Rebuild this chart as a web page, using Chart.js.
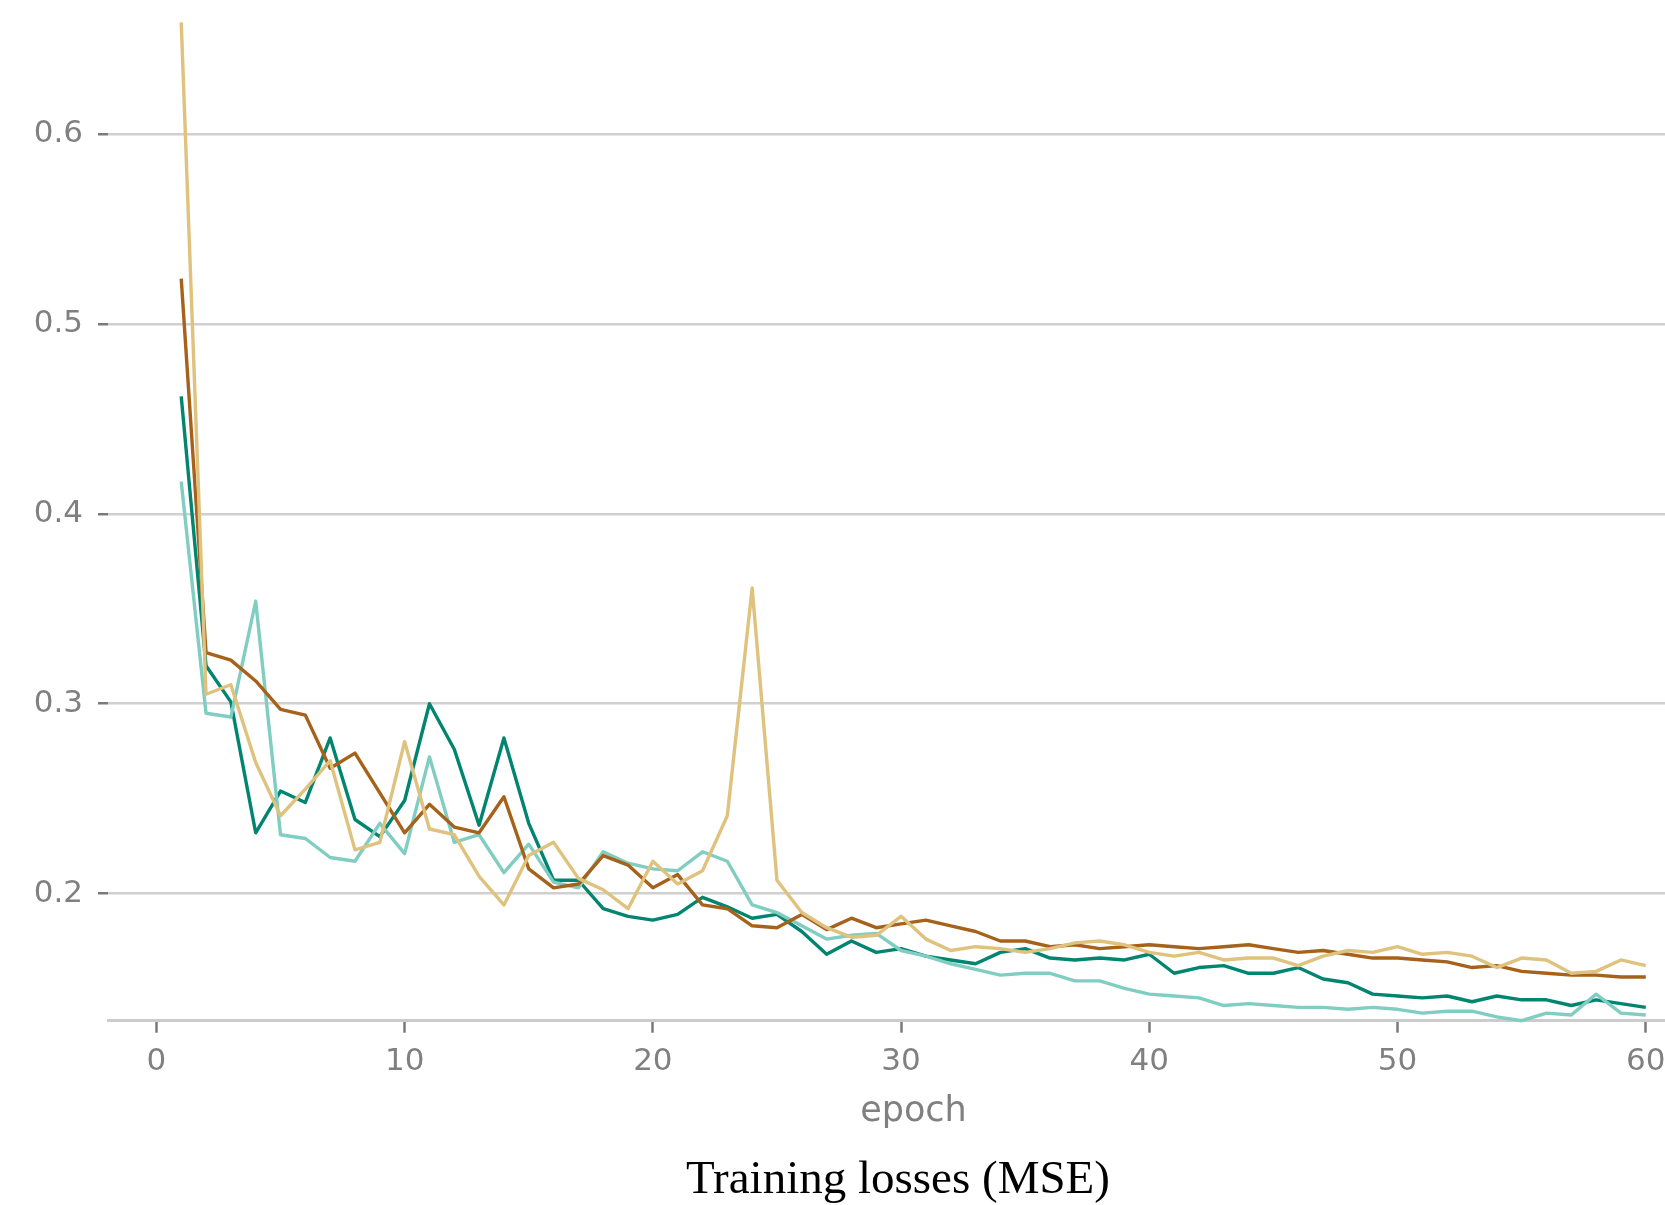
<!DOCTYPE html>
<html>
<head>
<meta charset="utf-8">
<title>Training losses (MSE)</title>
<script src="https://cdn.jsdelivr.net/npm/chart.js@4.4.1/dist/chart.umd.min.js"></script>
<style>
  html, body { margin: 0; padding: 0; background: #ffffff; overflow: hidden; }
  canvas { display: block; }
</style>
</head>
<body>
<canvas id="chart" width="1796" height="1205"></canvas>
<script>
// Epochs on the x axis
const epochs = [1, 2, 3, 4, 5, 6, 7, 8, 9, 10,
  11, 12, 13, 14, 15, 16, 17, 18, 19, 20,
  21, 22, 23, 24, 25, 26, 27, 28, 29, 30,
  31, 32, 33, 34, 35, 36, 37, 38, 39, 40,
  41, 42, 43, 44, 45, 46, 47, 48, 49, 50,
  51, 52, 53, 54, 55, 56, 57, 58, 59, 60];

// Tick values shown on each axis
const xTicks = [0, 10, 20, 30, 40, 50, 60];
const yTicks = [0.2, 0.3, 0.4, 0.5, 0.6];

// Per-epoch training loss (MSE) for each run
const lossRunA = [0.462, 0.320, 0.301, 0.232, 0.254, 0.248, 0.282, 0.239, 0.230, 0.249,
  0.300, 0.276, 0.236, 0.282, 0.237, 0.207, 0.207, 0.192, 0.188, 0.186,
  0.189, 0.198, 0.193, 0.187, 0.189, 0.180, 0.168, 0.175, 0.169, 0.171,
  0.167, 0.165, 0.163, 0.169, 0.171, 0.166, 0.165, 0.166, 0.165, 0.168,
  0.158, 0.161, 0.162, 0.158, 0.158, 0.161, 0.155, 0.153, 0.147, 0.146,
  0.145, 0.146, 0.143, 0.146, 0.144, 0.144, 0.141, 0.144, 0.142, 0.140];

const lossRunB = [0.417, 0.295, 0.293, 0.354, 0.231, 0.229, 0.219, 0.217, 0.237, 0.221,
  0.272, 0.227, 0.231, 0.211, 0.226, 0.206, 0.203, 0.222, 0.216, 0.213,
  0.212, 0.222, 0.217, 0.194, 0.190, 0.183, 0.176, 0.178, 0.179, 0.170,
  0.167, 0.163, 0.160, 0.157, 0.158, 0.158, 0.154, 0.154, 0.150, 0.147,
  0.146, 0.145, 0.141, 0.142, 0.141, 0.140, 0.140, 0.139, 0.140, 0.139,
  0.137, 0.138, 0.138, 0.135, 0.133, 0.137, 0.136, 0.147, 0.137, 0.136];

const lossRunC = [0.524, 0.327, 0.323, 0.312, 0.297, 0.294, 0.266, 0.274, 0.253, 0.232,
  0.247, 0.235, 0.232, 0.251, 0.213, 0.203, 0.205, 0.220, 0.215, 0.203,
  0.210, 0.194, 0.192, 0.183, 0.182, 0.189, 0.181, 0.187, 0.182, 0.184,
  0.186, 0.183, 0.180, 0.175, 0.175, 0.172, 0.173, 0.171, 0.172, 0.173,
  0.172, 0.171, 0.172, 0.173, 0.171, 0.169, 0.170, 0.168, 0.166, 0.166,
  0.165, 0.164, 0.161, 0.162, 0.159, 0.158, 0.157, 0.157, 0.156, 0.156];

const lossRunD = [0.659, 0.305, 0.310, 0.269, 0.241, 0.255, 0.270, 0.223, 0.227, 0.280,
  0.234, 0.231, 0.209, 0.194, 0.220, 0.227, 0.208, 0.202, 0.192, 0.217,
  0.205, 0.212, 0.241, 0.361, 0.207, 0.190, 0.182, 0.177, 0.178, 0.188,
  0.176, 0.170, 0.172, 0.171, 0.169, 0.171, 0.174, 0.175, 0.173, 0.169,
  0.167, 0.169, 0.165, 0.166, 0.166, 0.162, 0.167, 0.170, 0.169, 0.172,
  0.168, 0.169, 0.167, 0.161, 0.166, 0.165, 0.158, 0.159, 0.165, 0.162];

const toPoints = values => epochs.map((e, i) => ({ x: e, y: values[i] }));

const tickFont = { family: '"DejaVu Sans", sans-serif', size: 31 };
const greyText = '#808080';
const tickMark = '#7a7a7a';

new Chart(document.getElementById('chart'), {
  type: 'line',
  data: {
    datasets: [
      { label: 'run A', data: toPoints(lossRunA), borderColor: '#018571', order: 3 },
      { label: 'run B', data: toPoints(lossRunB), borderColor: '#80cdc1', order: 2 },
      { label: 'run C', data: toPoints(lossRunC), borderColor: '#a6611a', order: 1 },
      { label: 'run D', data: toPoints(lossRunD), borderColor: '#dfc27d', order: 0 }
    ]
  },
  options: {
    responsive: false,
    animation: false,
    devicePixelRatio: 1,
    layout: { padding: { top: 20.5, right: 0, bottom: 0, left: 0 } },
    datasets: { line: { clip: false } },
    elements: {
      point: { radius: 0, hoverRadius: 0 },
      line: { borderWidth: 3.4, tension: 0, fill: false, borderJoinStyle: 'round', borderCapStyle: 'butt' }
    },
    plugins: {
      legend: { display: false },
      tooltip: { enabled: false },
      title: {
        display: true,
        position: 'bottom',
        text: 'Training losses (MSE)',
        color: '#000000',
        font: { family: '"Liberation Serif", serif', size: 47, weight: 'normal' },
        padding: { top: 4, bottom: -4 }
      }
    },
    scales: {
      x: {
        type: 'linear',
        min: -1.95,
        max: 62.95,
        afterBuildTicks: s => { s.ticks = xTicks.map(v => ({ value: v })); },
        afterFit: s => { s.height = 127.9; s.paddingLeft = 0; s.paddingRight = 0; },
        grid: {
          display: true, drawOnChartArea: false, drawTicks: true,
          tickLength: 12, tickColor: tickMark, tickWidth: 2.5
        },
        border: { display: true, color: '#cccccc', width: 3 },
        ticks: {
          autoSkip: false, maxRotation: 0, padding: 11,
          color: greyText, font: tickFont,
          callback: v => String(v)
        },
        title: {
          display: true, text: 'epoch', color: greyText,
          font: { family: '"DejaVu Sans", sans-serif', size: 35 },
          padding: { top: 0, bottom: 15.6 }
        }
      },
      y: {
        type: 'linear',
        min: 0.133,
        max: 0.66,
        afterBuildTicks: s => { s.ticks = yTicks.map(v => ({ value: v })); },
        afterFit: s => { s.width = 108; s.paddingTop = 0; s.paddingBottom = 0; },
        grid: {
          color: '#d0d0d0', lineWidth: 2.5, drawTicks: true,
          tickLength: 10, tickColor: tickMark, tickWidth: 2.5
        },
        border: { display: false },
        ticks: {
          autoSkip: false, padding: 15,
          color: greyText, font: tickFont,
          callback: v => Number(v).toFixed(1)
        }
      },
      // empty margin on the right of the plotting area
      rightMargin: {
        type: 'linear',
        position: 'right',
        display: true,
        grid: { display: false, drawTicks: false },
        border: { display: false },
        ticks: { display: false },
        afterFit: s => { s.width = 77; s.paddingTop = 0; s.paddingBottom = 0; }
      }
    }
  }
});
</script>
</body>
</html>
